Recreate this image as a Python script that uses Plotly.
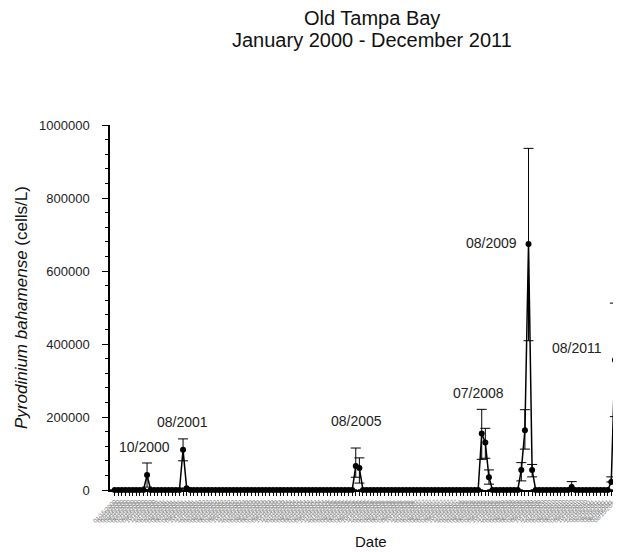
import plotly.graph_objects as go

# ---- data (monthly means, Jan 2000 - Dec 2011; month index 0 = Jan 2000) ----
month_labels = [f"{m:02d}/15/{y}" for y in range(2000, 2012) for m in range(1, 13)]
month_index = list(range(len(month_labels)))

# months with non-zero counts (all other months are 0)
peak_idx = [9, 19, 20, 67, 68, 102, 103, 104, 113, 114, 115, 116, 127, 138, 139]
peak_val = [41000, 110000, 5000, 66000, 60000, 155000, 130000, 35000,
            55000, 164000, 674000, 55000, 8000, 22000, 356000]
err_plus = [33000, 30000, 0, 49000, 28000, 66000, 39000, 20000,
            20000, 56000, 262000, 15000, 15000, 14000, 156000]
err_minus = [33000, 30000, 0, 31000, 41000, 71000, 43000, 19000,
             30000, 52000, 265000, 19000, 8000, 0, 155000]

# peak annotations: text, x (month index), y (cells/L)
label_text = ["10/2000", "08/2001", "08/2005", "07/2008", "08/2009", "08/2011"]
label_x = [8.2, 18.8, 67.3, 101.2, 104.6, 128.4]
label_y = [118000, 186000, 189000, 266000, 677000, 389000]

y_ticks = [0, 200000, 400000, 600000, 800000, 1000000]

# ---- build full series ----
values = [0] * len(month_index)
ep = [0] * len(month_index)
em = [0] * len(month_index)
for i, v, p, m in zip(peak_idx, peak_val, err_plus, err_minus):
    values[i] = v
    ep[i] = p
    em[i] = m

FONT = "Liberation Sans, Arial, sans-serif"

fig = go.Figure()
fig.add_trace(go.Scatter(
    x=month_index, y=values, mode="lines+markers",
    line=dict(color="black", width=1.5),
    marker=dict(color="black", size=6),
    error_y=dict(type="data", symmetric=False, array=ep, arrayminus=em,
                 color="black", thickness=1, width=5),
    cliponaxis=False, showlegend=False,
))

# page body adds an 8px offset; screen coords below are final page pixels
OFF = 8
L, T, PW, PH = 110, 125, 511.0, 365.0


def px_x(px):
    return (px - L) / PW


def px_y(py):
    return (T + PH - py) / PH


annotations = []
for t, x, y in zip(label_text, label_x, label_y):
    annotations.append(dict(x=x, y=y, xref="x", yref="y", text=t, showarrow=False,
                            font=dict(family=FONT, size=14, color="#222"),
                            xanchor="center", yanchor="middle"))

annotations += [
    dict(x=px_x(372), y=px_y(18), xref="paper", yref="paper", text="Old Tampa Bay",
         showarrow=False, font=dict(family=FONT, size=20, color="#111"),
         xanchor="center", yanchor="middle"),
    dict(x=px_x(372), y=px_y(40), xref="paper", yref="paper",
         text="January 2000 - December 2011", showarrow=False,
         font=dict(family=FONT, size=20, color="#111"),
         xanchor="center", yanchor="middle"),
    dict(x=px_x(371), y=px_y(541), xref="paper", yref="paper", text="Date",
         showarrow=False, font=dict(family=FONT, size=15, color="#111"),
         xanchor="center", yanchor="middle"),
    dict(x=px_x(21), y=px_y(308), xref="paper", yref="paper",
         text="<i>Pyrodinium bahamense</i> (cells/L)", textangle=-90,
         showarrow=False, font=dict(family=FONT, size=17, color="#111"),
         xanchor="center", yanchor="middle"),
]

W, H = 621 - OFF, 552 - OFF
fig.update_layout(
    width=W, height=H,
    margin=dict(l=L - OFF, r=0, t=T - OFF, b=H - (T - OFF) - int(PH), pad=0),
    paper_bgcolor="white", plot_bgcolor="white",
    annotations=annotations,
    xaxis=dict(
        range=[-1.3, 140.7],
        tickmode="array", tickvals=month_index, ticktext=month_labels,
        tickangle=-45, tickfont=dict(family=FONT, size=6, color="#7a7a7a"),
        ticks="outside", ticklen=4, tickwidth=1, tickcolor="black",
        showline=True, linecolor="black", linewidth=1.5,
        showgrid=False, zeroline=False, automargin=False,
    ),
    yaxis=dict(
        range=[0, 1000000],
        tickmode="array", tickvals=y_ticks, ticktext=[str(v) for v in y_ticks],
        tickfont=dict(family=FONT, size=13, color="#222"),
        ticklabelstandoff=10,
        ticks="outside", ticklen=6, tickwidth=1, tickcolor="black",
        minor=dict(dtick=40000, ticks="outside", ticklen=3, tickcolor="black"),
        showline=True, linecolor="black", linewidth=1.5,
        showgrid=False, zeroline=False, automargin=False,
    ),
)

fig.write_html("out.html")
